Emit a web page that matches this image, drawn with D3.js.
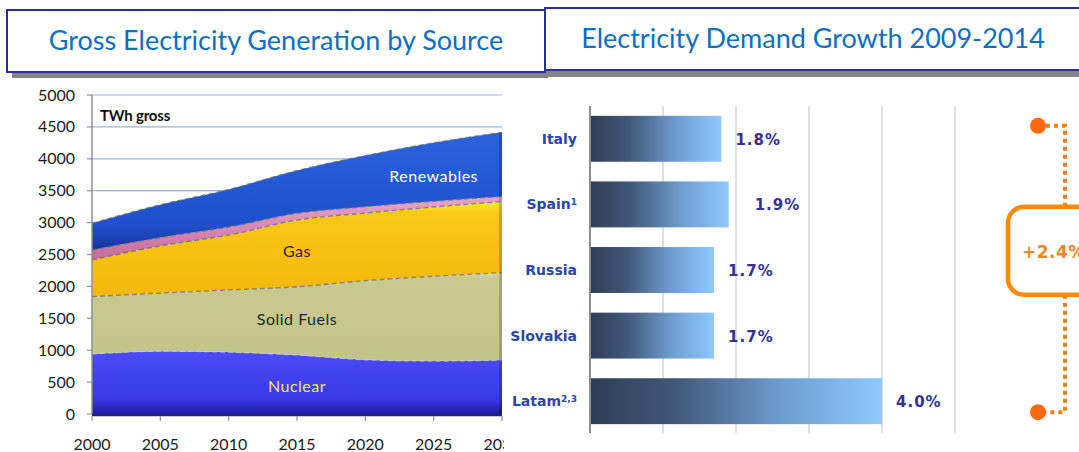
<!DOCTYPE html>
<html>
<head>
<meta charset="utf-8">
<script src="https://cdn.jsdelivr.net/npm/d3@7/dist/d3.min.js"></script>
<style>
  html, body { margin: 0; padding: 0; background: #fff; }
  svg { display: block; }
  .hdr { font-family: Lato, "Open Sans", sans-serif; font-size: 27px; fill: #0b6fc4; }
  .tick-lbl { font-family: Lato, "Open Sans", sans-serif; font-size: 16px; fill: #1a1a1a; }
  .area-lbl { font-family: Lato, "Open Sans", sans-serif; font-size: 16px; letter-spacing: 0.5px; }
  .cat { font-family: "DejaVu Sans", Verdana, sans-serif; font-weight: bold; font-size: 14px; fill: #2a46ac; }
  .val { font-family: "DejaVu Sans", Verdana, sans-serif; font-weight: bold; font-size: 15px; fill: #33309a; letter-spacing: 1px; }
</style>
</head>
<body>
<div id="chart"></div>
<script>
// generation by source, TWh gross
const years = [2000, 2005, 2010, 2015, 2020, 2025, 2030];
const nuclear = [940, 985, 970, 925, 850, 830, 845];
const solidFuels = [900, 910, 975, 1070, 1240, 1330, 1370];
const gas = [575, 740, 860, 1045, 1060, 1085, 1115];
const oil = [155, 130, 125, 105, 100, 90, 80];
const renewables = [420, 515, 590, 670, 800, 915, 1005];
const genTicks = [0, 500, 1000, 1500, 2000, 2500, 3000, 3500, 4000, 4500, 5000];
const yearTicks = [2000, 2005, 2010, 2015, 2020, 2025, 2030];

// demand growth 2009-2014, %
const countries = [`Italy`, `Spain`, `Russia`, `Slovakia`, `Latam`];
const footnotes = [``, `1`, ``, ``, `2,3`];
const growth = [1.8, 1.9, 1.7, 1.7, 4.0];
const growthTicks = [0, 1, 2, 3, 4, 5];
const totalGrowth = `+2.4%`;

const W = 1079, H = 452;
const svg = d3.select(`#chart`).append(`svg`)
    .attr(`width`, W)
    .attr(`height`, H);

const defs = svg.append(`defs`);

const vGrad = (id, stops) => {
  const g = defs.append(`linearGradient`).attr(`id`, id)
      .attr(`x1`, 0).attr(`y1`, 0).attr(`x2`, 0).attr(`y2`, 1);
  stops.forEach(([o, c]) => g.append(`stop`).attr(`offset`, o).attr(`stop-color`, c));
};
vGrad(`g-nuclear`, [[0, `#4b4cf6`], [0.75, `#3a3ae6`], [1, `#1c1ca6`]]);
vGrad(`g-solid`, [[0, `#dcdcae`], [0.06, `#c9c992`], [1, `#c3c48a`]]);
vGrad(`g-gas`, [[0, `#f2ee2a`], [0.12, `#f9c818`], [1, `#f6b80c`]]);
vGrad(`g-oil`, [[0, `#e8a6c8`], [1, `#c66a9e`]]);
vGrad(`g-ren`, [[0, `#2a62dc`], [0.8, `#1f4fcc`], [1, `#17329a`]]);

const barGrad = defs.append(`linearGradient`).attr(`id`, `g-bar`)
    .attr(`x1`, 0).attr(`y1`, 0).attr(`x2`, 1).attr(`y2`, 0);
[[0, `#2e3f56`], [0.3, `#42597a`], [0.65, `#6e9cce`], [1, `#8fcaff`]].forEach(([o, c]) =>
  barGrad.append(`stop`).attr(`offset`, o).attr(`stop-color`, c));

defs.append(`clipPath`).attr(`id`, `clip-left`)
  .append(`rect`).attr(`x`, 0).attr(`y`, 0).attr(`width`, 504).attr(`height`, H);

// ---------- left: stacked area ----------
const left = svg.append(`g`).attr(`clip-path`, `url(#clip-left)`);

const x = d3.scaleLinear().domain([2000, 2030]).range([92, 502]);
const y = d3.scaleLinear().domain([0, 5000]).range([414, 95]);

left.selectAll(`.grid`)
    .data(genTicks.filter((d) => d > 0))
  .enter().append(`line`)
    .attr(`x1`, x(2000)).attr(`x2`, x(2030))
    .attr(`y1`, (d) => y(d)).attr(`y2`, (d) => y(d))
    .attr(`stroke`, `#92b6e4`).attr(`stroke-width`, 1.2);

const keys = [`nuclear`, `solidFuels`, `gas`, `oil`, `renewables`];
const fills = [`g-nuclear`, `g-solid`, `g-gas`, `g-oil`, `g-ren`];
const series = { nuclear, solidFuels, gas, oil, renewables };
const table = years.map((yr, i) => {
  const row = { year: yr };
  keys.forEach((k) => { row[k] = series[k][i]; });
  return row;
});
const stacked = d3.stack().keys(keys)(table);

const area = d3.area()
    .x((d) => x(d.data.year))
    .y0((d) => y(d[0]))
    .y1((d) => y(d[1]))
    .curve(d3.curveMonotoneX);
const topLine = d3.line()
    .x((d) => x(d.data.year))
    .y((d) => y(d[1]))
    .curve(d3.curveMonotoneX);

left.selectAll(`.layer`)
    .data(stacked)
  .enter().append(`path`)
    .attr(`class`, `layer`)
    .attr(`d`, area)
    .attr(`fill`, (d, i) => `url(#${fills[i]})`);

left.selectAll(`.edge`)
    .data(stacked)
  .enter().append(`path`)
    .attr(`d`, topLine)
    .attr(`fill`, `none`)
    .attr(`stroke`, (d, i) => i === 0 ? `#c8c8d8` : `#6a6a78`)
    .attr(`stroke-width`, 1.3)
    .attr(`stroke-dasharray`, `5 3`)
    .attr(`opacity`, 0.8);

// darker side edge on the right
const lastTotal = d3.sum(keys, (k) => series[k][series[k].length - 1]);
left.append(`rect`)
    .attr(`x`, x(2030) - 3).attr(`y`, y(lastTotal))
    .attr(`width`, 3)
    .attr(`height`, y(0) - y(lastTotal))
    .attr(`fill`, `#000`).attr(`opacity`, 0.18);

// axes
left.append(`line`)
    .attr(`x1`, x(2000)).attr(`x2`, x(2000))
    .attr(`y1`, y(5000)).attr(`y2`, y(0))
    .attr(`stroke`, `#8a8f98`).attr(`stroke-width`, 1.5);
left.selectAll(`.ytick`)
    .data(genTicks)
  .enter().append(`line`)
    .attr(`x1`, x(2000) - 5).attr(`x2`, x(2000))
    .attr(`y1`, (d) => y(d)).attr(`y2`, (d) => y(d))
    .attr(`stroke`, `#8a8f98`).attr(`stroke-width`, 1.2);
left.selectAll(`.ylbl`)
    .data(genTicks)
  .enter().append(`text`)
    .attr(`class`, `tick-lbl`)
    .attr(`x`, 75).attr(`y`, (d) => y(d) + 5.5)
    .attr(`text-anchor`, `end`)
    .text((d) => d);

left.append(`line`)
    .attr(`x1`, x(2000)).attr(`x2`, x(2030))
    .attr(`y1`, y(0) + 1).attr(`y2`, y(0) + 1)
    .attr(`stroke`, `#1e2470`).attr(`stroke-width`, 2.5);
left.selectAll(`.xtick`)
    .data(yearTicks)
  .enter().append(`line`)
    .attr(`x1`, (d) => x(d)).attr(`x2`, (d) => x(d))
    .attr(`y1`, y(0) + 2).attr(`y2`, y(0) + 7)
    .attr(`stroke`, `#8a8f98`).attr(`stroke-width`, 1.2);
left.selectAll(`.xlbl`)
    .data(yearTicks)
  .enter().append(`text`)
    .attr(`class`, `tick-lbl`)
    .attr(`x`, (d) => x(d)).attr(`y`, 450)
    .attr(`text-anchor`, `middle`)
    .text((d) => d);

left.append(`text`)
    .attr(`x`, 100).attr(`y`, 121)
    .attr(`font-family`, `Lato, sans-serif`).attr(`font-weight`, `bold`)
    .attr(`font-size`, 15).attr(`fill`, `#111`).attr(`letter-spacing`, -0.2)
    .text(`TWh gross`);

const areaLabels = [
  { text: `Renewables`, year: 2025, value: 3640, color: `#ffffff` },
  { text: `Gas`, year: 2015, value: 2465, color: `#2a2410` },
  { text: `Solid Fuels`, year: 2015, value: 1395, color: `#26261a` },
  { text: `Nuclear`, year: 2015, value: 350, color: `#e4ef6a` },
];
left.selectAll(`.alb`)
    .data(areaLabels)
  .enter().append(`text`)
    .attr(`class`, `area-lbl`)
    .attr(`x`, (d) => x(d.year)).attr(`y`, (d) => y(d.value))
    .attr(`text-anchor`, `middle`)
    .attr(`fill`, (d) => d.color)
    .text((d) => d.text);

// ---------- right: bar chart ----------
const right = svg.append(`g`);
const bx = d3.scaleLinear().domain([0, 5]).range([590, 955]);
const by = d3.scaleBand().domain(countries).range([106, 434])
    .paddingInner(0.3).paddingOuter(0.15);

right.selectAll(`.bgrid`)
    .data(growthTicks)
  .enter().append(`line`)
    .attr(`x1`, (d) => bx(d)).attr(`x2`, (d) => bx(d))
    .attr(`y1`, 106).attr(`y2`, 433)
    .attr(`stroke`, (d) => d === 0 ? `#8c8c8c` : `#d4d4d4`)
    .attr(`stroke-width`, (d) => d === 0 ? 2 : 1.5);

right.selectAll(`.bar`)
    .data(countries)
  .enter().append(`rect`)
    .attr(`x`, bx(0) + 1)
    .attr(`y`, (d) => by(d))
    .attr(`width`, (d, i) => bx(growth[i]) - bx(0) - 1)
    .attr(`height`, by.bandwidth())
    .attr(`fill`, `url(#g-bar)`);

const cat = right.selectAll(`.cat`)
    .data(countries)
  .enter().append(`text`)
    .attr(`class`, `cat`)
    .attr(`x`, 577)
    .attr(`y`, (d) => by(d) + by.bandwidth() / 2 + 5)
    .attr(`text-anchor`, `end`);
cat.append(`tspan`).text((d) => d);
cat.append(`tspan`)
    .attr(`font-size`, 9).attr(`dy`, -4)
    .text((d, i) => footnotes[i]);

right.selectAll(`.val`)
    .data(countries)
  .enter().append(`text`)
    .attr(`class`, `val`)
    .attr(`x`, (d, i) => bx(growth[i]) + (i === 1 ? 26 : 14))
    .attr(`y`, (d) => by(d) + by.bandwidth() / 2 + 6)
    .text((d, i) => `${growth[i].toFixed(1)}%`);

// orange bracket with the average
const orange = `#fb7c14`;
const bTop = by(countries[0]) + 10;
const bBot = by(countries[countries.length - 1]) + by.bandwidth() - 12;
const bxDot = 1038, bxLine = 1065;
const boxTop = bTop + 81, boxBot = boxTop + 88;
const boxMid = (boxTop + boxBot) / 2;

right.append(`path`)
    .attr(`d`, `M${bxDot},${bTop}H${bxLine}V${boxTop}M${bxLine},${boxBot}V${bBot}H${bxDot}`)
    .attr(`fill`, `none`).attr(`stroke`, orange)
    .attr(`stroke-width`, 4).attr(`stroke-dasharray`, `4 4`);
right.selectAll(`.dot`)
    .data([bTop, bBot])
  .enter().append(`circle`)
    .attr(`cx`, bxDot).attr(`cy`, (d) => d).attr(`r`, 8)
    .attr(`fill`, `#ff6a10`);
right.append(`rect`)
    .attr(`x`, 1008).attr(`y`, boxTop)
    .attr(`width`, 130).attr(`height`, boxBot - boxTop)
    .attr(`rx`, 16)
    .attr(`fill`, `#fff`).attr(`stroke`, `#ff8a0a`).attr(`stroke-width`, 4.5);
right.append(`text`)
    .attr(`x`, 1022).attr(`y`, boxMid + 7)
    .attr(`font-family`, `"DejaVu Sans", Verdana, sans-serif`)
    .attr(`font-weight`, `bold`).attr(`font-size`, 17)
    .attr(`fill`, `#f5861f`).attr(`letter-spacing`, 0.5)
    .text(totalGrowth);

// ---------- header boxes ----------
const head = svg.append(`g`);
head.append(`rect`).attr(`x`, 12).attr(`y`, 16).attr(`width`, 536).attr(`height`, 62).attr(`fill`, `#858585`);
head.append(`rect`).attr(`x`, 7).attr(`y`, 10).attr(`width`, 538).attr(`height`, 62)
    .attr(`fill`, `#fff`).attr(`stroke`, `#2b2ba6`).attr(`stroke-width`, 2);
head.append(`text`).attr(`class`, `hdr`)
    .attr(`x`, 276).attr(`y`, 50).attr(`text-anchor`, `middle`)
    .text(`Gross Electricity Generation by Source`);

head.append(`rect`).attr(`x`, 548).attr(`y`, 14).attr(`width`, 560).attr(`height`, 63).attr(`fill`, `#858585`);
head.append(`rect`).attr(`x`, 545).attr(`y`, 8).attr(`width`, 560).attr(`height`, 62)
    .attr(`fill`, `#fff`).attr(`stroke`, `#2b2ba6`).attr(`stroke-width`, 2);
head.append(`text`).attr(`class`, `hdr`)
    .attr(`x`, 813).attr(`y`, 48).attr(`text-anchor`, `middle`)
    .text(`Electricity Demand Growth 2009-2014`);
</script>
</body>
</html>
